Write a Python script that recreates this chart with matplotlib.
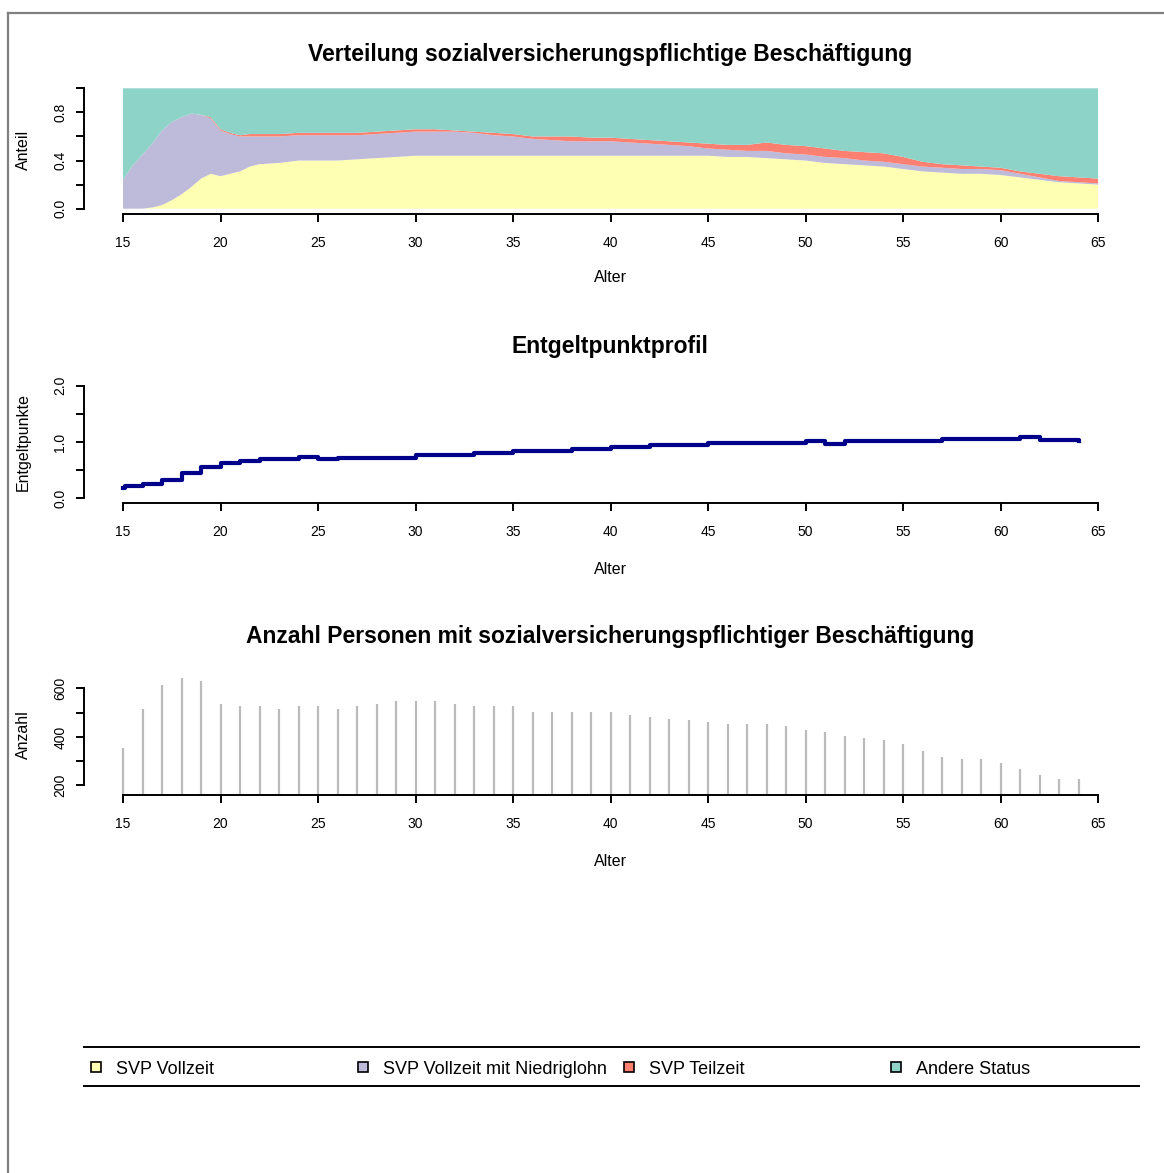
import matplotlib.pyplot as plt
from matplotlib.lines import Line2D

plt.rcParams['font.family'] = ['Liberation Sans', 'DejaVu Sans']

# Verteilung: Anteile je Status nach Alter
status_alter = [15.0, 15.5, 16.0, 16.5, 17.0, 17.5, 18.0, 18.5, 19.0, 19.5,
                20.0, 20.5, 21.0, 21.5, 22.0, 23, 24, 25, 26, 27, 28, 29, 30,
                31, 32, 33, 34, 35, 36, 37, 38, 39, 40, 41, 42, 43, 44, 45,
                46, 47, 48, 49, 50, 51, 52, 53, 54, 55, 56, 57, 58, 59, 60,
                61, 62, 63, 64, 65]
svp_vollzeit = [0.00, 0.00, 0.00, 0.01, 0.03, 0.07, 0.12, 0.18, 0.25, 0.29,
                0.27, 0.29, 0.31, 0.35, 0.37, 0.38, 0.40, 0.40, 0.40, 0.41,
                0.42, 0.43, 0.44, 0.44, 0.44, 0.44, 0.44, 0.44, 0.44, 0.44,
                0.44, 0.44, 0.44, 0.44, 0.44, 0.44, 0.44, 0.44, 0.43, 0.43,
                0.42, 0.41, 0.40, 0.38, 0.37, 0.36, 0.35, 0.33, 0.31, 0.30,
                0.29, 0.29, 0.28, 0.26, 0.24, 0.22, 0.21, 0.20]
svp_niedriglohn = [0.24, 0.36, 0.45, 0.53, 0.62, 0.65, 0.64, 0.61, 0.53, 0.46,
                   0.38, 0.33, 0.29, 0.25, 0.23, 0.22, 0.21, 0.21, 0.21, 0.20,
                   0.20, 0.20, 0.20, 0.20, 0.20, 0.19, 0.17, 0.16, 0.14, 0.13,
                   0.12, 0.12, 0.12, 0.11, 0.10, 0.09, 0.08, 0.06, 0.06, 0.05,
                   0.06, 0.05, 0.05, 0.05, 0.05, 0.04, 0.04, 0.04, 0.04, 0.04,
                   0.04, 0.04, 0.04, 0.03, 0.02, 0.01, 0.01, 0.01]
svp_teilzeit = [0.00, 0.00, 0.00, 0.00, 0.00, 0.00, 0.00, 0.00, 0.00, 0.01,
                0.01, 0.01, 0.01, 0.02, 0.02, 0.02, 0.02, 0.02, 0.02, 0.02,
                0.02, 0.02, 0.02, 0.02, 0.01, 0.01, 0.02, 0.02, 0.02, 0.03,
                0.04, 0.03, 0.03, 0.03, 0.03, 0.03, 0.03, 0.04, 0.04, 0.05,
                0.07, 0.07, 0.07, 0.07, 0.06, 0.07, 0.07, 0.06, 0.04, 0.03,
                0.03, 0.02, 0.02, 0.02, 0.03, 0.04, 0.04, 0.04]
andere_status = [1 - a - b - c for a, b, c in zip(svp_vollzeit, svp_niedriglohn, svp_teilzeit)]

status_namen = ['SVP Vollzeit', 'SVP Vollzeit mit Niedriglohn', 'SVP Teilzeit', 'Andere Status']
status_farben = ['#FFFFB3', '#BEBADA', '#FB8072', '#8DD3C7']

# Entgeltpunktprofil (Treppenfunktion)
ep_alter = [15, 15.1, 16, 17, 18, 19, 20, 21, 22, 24, 25, 26, 30, 33, 35, 38,
            40, 42, 45, 50, 51, 52, 57, 61, 62, 64]
ep_werte = [0.18, 0.21, 0.25, 0.33, 0.45, 0.55, 0.62, 0.67, 0.70, 0.73, 0.69,
            0.72, 0.77, 0.80, 0.84, 0.87, 0.91, 0.94, 0.98, 1.02, 0.97, 1.02,
            1.05, 1.08, 1.04, 1.01]

# Anzahl Personen mit SVP-Beschaeftigung
anzahl_alter = list(range(15, 65))
anzahl = [356, 517, 613, 645, 630, 534, 526, 526, 517, 526,
          526, 517, 526, 534, 549, 549, 549, 534, 526, 526,
          526, 501, 501, 501, 501, 501, 492, 484, 476, 468,
          461, 452, 452, 452, 444, 429, 421, 404, 396, 387,
          372, 341, 316, 307, 307, 292, 267, 244, 228, 228]

W, H = 1164, 1173
fig = plt.figure(figsize=(W / 100, H / 100), dpi=100)


def fx(x):
    return x / W


def fy(y):
    return 1 - y / H


def add_panel(top, bottom):
    return fig.add_axes([fx(84), fy(bottom), (1137 - 84) / W, (bottom - top) / H])


def style_axes(ax, ybounds, yticks, ylabels):
    for s in ['top', 'right']:
        ax.spines[s].set_visible(False)
    ax.spines['bottom'].set_bounds(15, 65)
    ax.spines['left'].set_bounds(*ybounds)
    for s in ['bottom', 'left']:
        ax.spines[s].set_linewidth(1.4)
    ax.set_xlim(13, 67)
    ax.set_xticks(range(15, 66, 5))
    ax.set_yticks(yticks)
    ax.set_yticklabels(ylabels, rotation=90, va='center')
    ax.tick_params(length=6, width=1.4, labelsize=10)
    ax.tick_params(axis='x', pad=10)
    ax.tick_params(axis='y', pad=6)


# Panel 1: Verteilung
ax1 = add_panel(83.5, 213.5)
ax1.stackplot(status_alter, svp_vollzeit, svp_niedriglohn, svp_teilzeit, andere_status,
              colors=status_farben, linewidth=0)
ax1.set_ylim(-0.04, 1.04)
style_axes(ax1, (0, 1), [0, 0.2, 0.4, 0.6, 0.8, 1.0], ['0.0', '', '0.4', '', '0.8', ''])

# Panel 2: Entgeltpunkte
ax2 = add_panel(381.2, 502.8)
ax2.step(ep_alter, ep_werte, where='post', color='#00008B', linewidth=3)
ax2.set_ylim(-0.08, 2.08)
style_axes(ax2, (0, 2), [0, 0.5, 1.0, 1.5, 2.0], ['0.0', '', '1.0', '', '2.0'])

# Panel 3: Anzahl
ax3 = add_panel(673, 795)
ax3.vlines(anzahl_alter, 0, anzahl, color='#BBBBBB', linewidth=1.6)
ax3.set_ylim(160, 664)
style_axes(ax3, (200, 600), [200, 300, 400, 500, 600], ['200', '', '400', '', '600'])

# Titel und Achsenbeschriftungen
titel = [('Verteilung sozialversicherungspflichtige Beschäftigung', 54),
         ('Entgeltpunktprofil', 346),
         ('Anzahl Personen mit sozialversicherungspflichtiger Beschäftigung', 637)]
for t, y in titel:
    fig.text(fx(610), fy(y), t, ha='center', va='center', fontsize=16.5, fontweight='bold')

for y in [278, 570, 861]:
    fig.text(fx(610), fy(y), 'Alter', ha='center', va='center', fontsize=11.5)

for t, y in [('Anteil', 150), ('Entgeltpunkte', 442), ('Anzahl', 735)]:
    fig.text(fx(23), fy(y), t, ha='center', va='center', rotation=90, fontsize=11.5)

# Legende
fig.add_artist(Line2D([fx(84), fx(1139)], [fy(1047), fy(1047)], color='black', lw=1.4))
fig.add_artist(Line2D([fx(84), fx(1139)], [fy(1086), fy(1086)], color='black', lw=1.4))
for i, (name, farbe) in enumerate(zip(status_namen, status_farben)):
    x0 = 96 + i * 266.7
    fig.add_artist(Line2D([fx(x0)], [fy(1067)], marker='s', markersize=7,
                          markerfacecolor=farbe, markeredgecolor='black',
                          markeredgewidth=1.2, linestyle='none'))
    fig.text(fx(x0 + 20), fy(1069), name, ha='left', va='center', fontsize=13)

# Rahmen
fig.add_artist(Line2D([fx(8), fx(W)], [fy(13), fy(13)], color='#808080', lw=1.6))
fig.add_artist(Line2D([fx(8), fx(8)], [fy(13), fy(H)], color='#808080', lw=1.6))

fig.savefig('out.png', dpi=100)
